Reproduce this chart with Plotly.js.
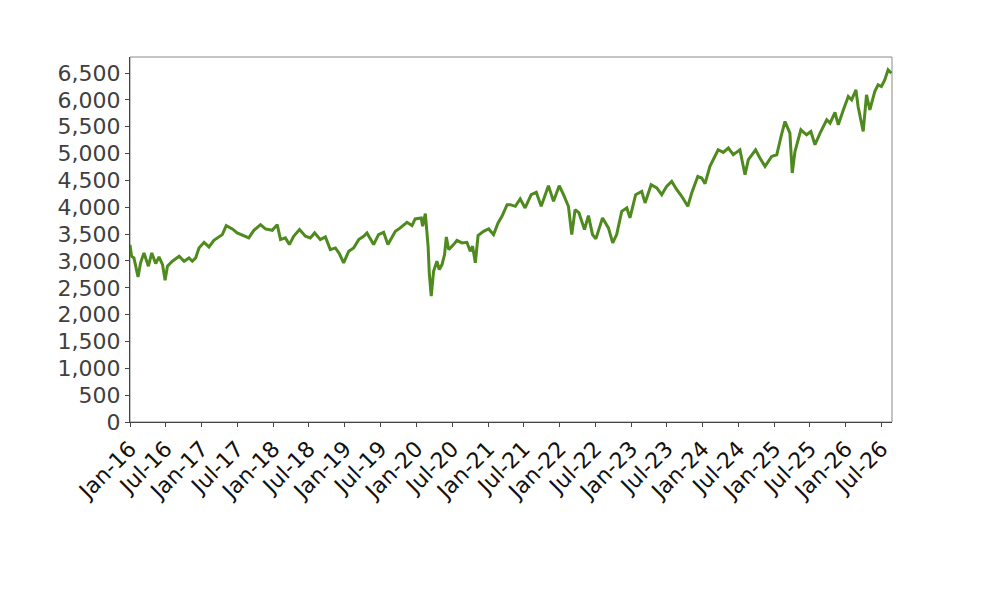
<!DOCTYPE html>
<html>
<head>
<meta charset="utf-8">
<script src="https://cdn.plot.ly/plotly-3.0.1.min.js"></script>
<style>html,body{margin:0;padding:0;background:#fff;}#chart{width:1000px;height:600px;}</style>
</head>
<body>
<div id="chart"></div>
<script>
const dates = [
"2016-01-01","2016-01-09","2016-01-21","2016-02-11","2016-02-24","2016-03-12","2016-04-04","2016-04-21","2016-05-11","2016-05-28",
"2016-06-15","2016-06-28","2016-07-10","2016-08-04","2016-09-08","2016-10-03","2016-10-28","2016-11-14","2016-12-01","2016-12-18",
"2017-01-13","2017-02-07","2017-03-04","2017-04-16","2017-05-06","2017-06-06","2017-07-01","2017-08-04","2017-08-29","2017-09-24",
"2017-10-28","2017-11-22","2017-12-27","2018-01-21","2018-02-07","2018-03-04","2018-03-24","2018-04-15","2018-05-15","2018-06-14",
"2018-07-09","2018-07-31","2018-08-29","2018-09-24","2018-10-19","2018-11-14","2018-12-04","2018-12-26","2019-01-21","2019-02-15",
"2019-03-13","2019-04-07","2019-04-24","2019-05-28","2019-06-22","2019-07-18","2019-08-09","2019-09-16","2019-10-11","2019-11-14",
"2019-12-10","2019-12-26","2020-01-26","2020-02-02","2020-02-16","2020-03-01","2020-03-07","2020-03-17","2020-03-29","2020-04-15",
"2020-04-27","2020-05-11","2020-05-24","2020-06-02","2020-06-14","2020-07-09","2020-07-26","2020-08-21","2020-09-15","2020-10-02",
"2020-10-14","2020-10-28","2020-11-11","2020-12-09","2021-01-04","2021-01-29","2021-02-21","2021-03-13","2021-04-08","2021-04-24",
"2021-05-20","2021-06-14","2021-07-09","2021-08-09","2021-09-04","2021-09-29","2021-11-05","2021-12-01","2021-12-30","2022-01-21",
"2022-02-15","2022-03-04","2022-03-21","2022-04-10","2022-05-08","2022-05-28","2022-06-18","2022-07-05","2022-08-08","2022-09-07",
"2022-09-29","2022-10-19","2022-11-14","2022-12-10","2022-12-26","2023-01-24","2023-02-24","2023-03-13","2023-04-13","2023-05-12",
"2023-06-06","2023-07-01","2023-07-27","2023-08-22","2023-09-16","2023-10-17","2023-11-06","2023-12-07","2023-12-27","2024-01-13",
"2024-02-07","2024-03-20","2024-04-15","2024-05-11","2024-06-05","2024-07-09","2024-08-04","2024-08-21","2024-09-07","2024-09-27",
"2024-10-19","2024-11-14","2024-12-18","2025-01-13","2025-02-04","2025-02-24","2025-03-21","2025-04-02","2025-04-16","2025-05-16",
"2025-06-14","2025-07-06","2025-07-27","2025-08-22","2025-09-25","2025-10-12","2025-11-06","2025-11-23","2025-12-19","2026-01-13",
"2026-01-30","2026-02-21","2026-03-04","2026-03-21","2026-03-30","2026-04-16","2026-05-03","2026-05-28","2026-06-14","2026-07-01",
"2026-07-18","2026-08-04","2026-08-21"
];
const values = [
3300,3088,3057,2704,2965,3150,2902,3150,2952,3076,
2933,2641,2902,2995,3088,2995,3057,2995,3057,3243,
3348,3262,3385,3491,3659,3597,3523,3473,3430,3571,
3677,3597,3571,3677,3398,3430,3305,3460,3584,3460,
3430,3523,3398,3448,3212,3243,3138,2965,3181,3243,
3398,3460,3523,3305,3491,3534,3305,3553,3616,3720,
3659,3783,3802,3646,3882,3274,2779,2344,2809,2995,
2840,2933,3119,3448,3212,3305,3385,3337,3348,3181,
3274,2965,3473,3553,3597,3491,3709,3832,4049,4049,
4018,4155,3988,4235,4278,4018,4403,4111,4403,4235,
4018,3491,3956,3895,3584,3845,3491,3411,3802,3616,
3337,3491,3925,3988,3802,4235,4297,4081,4421,4360,
4235,4390,4483,4328,4204,4018,4267,4576,4546,4440,
4762,5072,5022,5104,4979,5072,4607,4886,4979,5072,
4918,4762,4948,4979,5320,5599,5383,4639,5041,5444,
5351,5413,5165,5383,5630,5569,5766,5537,5816,6064,
6002,6188,5878,5569,5413,6095,5816,6157,6281,6250,
6374,6560,6499
];
const xRange = ["2016-01-01","2026-08-24"];
const yRange = [0, 6800];

const trace = {
  x: dates, y: values, type: "scatter", mode: "lines",
  line: {color: "#4f8a1e", width: 3},
  hoverinfo: "x+y"
};
const layout = {
  width: 1000, height: 600,
  margin: {l: 130, r: 108, t: 57, b: 178},
  paper_bgcolor: "#fff", plot_bgcolor: "#fff",
  showlegend: false,
  font: {family: "DejaVu Sans", size: 22, color: "#404040"},
  xaxis: {
    type: "date", range: xRange, dtick: "M6", tick0: "2016-01-01",
    tickformat: "%b-%y", tickangle: -45,
    tickfont: {family: "DejaVu Sans", size: 22, color: "#111"},
    showgrid: false, zeroline: false,
    showline: true, linecolor: "#444", linewidth: 1.2,
    ticks: "outside", ticklen: 4, tickcolor: "#444"
  },
  yaxis: {
    range: yRange, dtick: 500, tick0: 0, tickformat: ",d",
    tickfont: {family: "DejaVu Sans", size: 22, color: "#404040"},
    showgrid: false, zeroline: false,
    showline: true, linecolor: "#444", linewidth: 1.2,
    ticks: "outside", ticklen: 4, tickcolor: "#444"
  },
  shapes: [{type: "rect", xref: "paper", yref: "paper", x0: 0, x1: 1, y0: 0, y1: 1,
            line: {color: "#8a8a8a", width: 1}, layer: "below"}]
};
Plotly.newPlot("chart", [trace], layout, {displayModeBar: false, staticPlot: true});
</script>
</body>
</html>
